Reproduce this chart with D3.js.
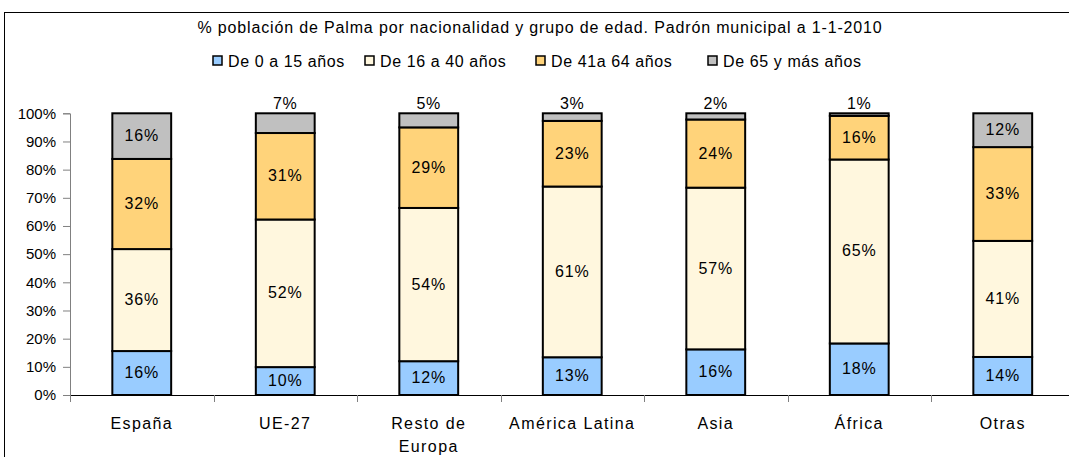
<!DOCTYPE html>
<html>
<head>
<meta charset="utf-8">
<script src="https://cdn.jsdelivr.net/npm/d3@7"></script>
<style>
  body { margin: 0; background: #fff; }
  text { font-family: "Liberation Sans", Arial, sans-serif; fill: #000; }
</style>
</head>
<body>
<script>
'use strict'

var w = 1069;
var h = 457;

// data (percent of each nationality group)
var categories = ["España", "UE-27", "Resto de\nEuropa", "América Latina", "Asia", "África", "Otras"];
var groups = ["De 0 a 15 años", "De 16 a 40 años", "De 41a 64 años", "De 65 y más años"];
var age0to15 = [15.6, 9.9, 12.0, 13.4, 16.2, 18.3, 13.5];
var age16to40 = [36.2, 52.4, 54.4, 60.6, 57.4, 65.3, 41.2];
var age41to64 = [32.0, 30.7, 28.6, 23.3, 24.2, 15.5, 33.3];
var age65plus = [16.2, 7.0, 5.0, 2.7, 2.2, 0.9, 12.0];
var yTicks = [0, 10, 20, 30, 40, 50, 60, 70, 80, 90, 100];
var colors = ["#99CCFF", "#FFF7DE", "#FFD37A", "#C0C0C0"];

var series = [age0to15, age16to40, age41to64, age65plus];
var table = categories.map(function(c, i) {
  var row = { cat: c };
  groups.forEach(function(g, k) { row[g] = series[k][i]; });
  return row;
});

var svg = d3.select("body").append("svg")
  .attr("width", w)
  .attr("height", h);

// outer frame
svg.append("rect")
  .attr("x", 4.5).attr("y", 12.5)
  .attr("width", 1100).attr("height", 500)
  .attr("fill", "none").attr("stroke", "#000").attr("stroke-width", 1);

// title
svg.append("text")
  .attr("x", 540).attr("y", 33)
  .attr("text-anchor", "middle")
  .style("font-size", "16px")
  .style("letter-spacing", "0.85px")
  .text("% población de Palma por nacionalidad y grupo de edad. Padrón municipal a 1-1-2010");

var x = d3.scaleBand()
  .domain(categories)
  .range([70, 1074.5])
  .paddingInner(0.59)
  .paddingOuter(0.295);

var y = d3.scaleLinear()
  .domain([0, 100])
  .range([395, 113.3]);

// y axis
var yAxis = svg.append("g")
  .attr("transform", "translate(70,0)")
  .call(d3.axisLeft(y).tickValues(yTicks).tickSize(7).tickPadding(7)
    .tickFormat(function(d) { return d + "%"; }));
yAxis.select(".domain").attr("stroke", "#808080");
yAxis.selectAll(".tick line").attr("stroke", "#808080");
yAxis.selectAll("text").style("font-size", "15px").style("font-family", "Liberation Sans, Arial, sans-serif");

// x axis: ticks at band boundaries
var step = x.step();
var xb = d3.scaleLinear().domain([0, categories.length]).range([70, 70 + step * categories.length]);
svg.append("line")
  .attr("x1", 70).attr("x2", 1074).attr("y1", 395.5).attr("y2", 395.5)
  .attr("stroke", "#000");
svg.selectAll("line.xt")
  .data(d3.range(categories.length + 1))
  .enter().append("line")
  .attr("class", "xt")
  .attr("x1", function(d) { return Math.round(xb(d)) + 0.5; })
  .attr("x2", function(d) { return Math.round(xb(d)) + 0.5; })
  .attr("y1", 395).attr("y2", 402)
  .attr("stroke", "#808080");

// category labels
svg.selectAll("text.cat")
  .data(categories)
  .enter().append("text")
  .attr("class", "cat")
  .attr("text-anchor", "middle")
  .style("font-size", "16px")
  .style("letter-spacing", "1.4px")
  .each(function(d) {
    var t = d3.select(this);
    d.split("\n").forEach(function(line, i) {
      t.append("tspan")
        .attr("x", x(d) + x.bandwidth() / 2)
        .attr("y", 429 + i * 23)
        .text(line);
    });
  });

// stacked bars
var stack = d3.stack().keys(groups);
var layers = svg.selectAll("g.layer")
  .data(stack(table))
  .enter().append("g")
  .attr("class", "layer")
  .attr("fill", function(d, i) { return colors[i]; });

layers.selectAll("rect")
  .data(function(d) { return d; })
  .enter().append("rect")
  .attr("x", function(d) { return x(d.data.cat); })
  .attr("width", x.bandwidth())
  .attr("y", function(d) { return y(d[1]); })
  .attr("height", function(d) { return y(d[0]) - y(d[1]); })
  .attr("stroke", "#000")
  .attr("stroke-width", 2);

// data labels (small top segments get their label above the bar)
layers.selectAll("text")
  .data(function(d) { return d; })
  .enter().append("text")
  .attr("text-anchor", "middle")
  .style("font-size", "16px")
  .style("letter-spacing", "0.8px")
  .attr("x", function(d) { return x(d.data.cat) + x.bandwidth() / 2; })
  .attr("y", function(d) {
    var v = d[1] - d[0];
    if (v < 10 && d[1] > 99.5) return y(d[1]) - 4;
    return (y(d[0]) + y(d[1])) / 2 + 5;
  })
  .text(function(d) { return Math.round(d[1] - d[0]) + "%"; });

// legend
var legendX = [213, 365, 536, 708];
var legend = svg.selectAll("g.legend")
  .data(groups)
  .enter().append("g")
  .attr("class", "legend")
  .attr("transform", function(d, i) { return "translate(" + legendX[i] + ",56)"; });
legend.append("rect")
  .attr("width", 9).attr("height", 9)
  .attr("fill", function(d, i) { return colors[i]; })
  .attr("stroke", "#000").attr("stroke-width", 1.5);
legend.append("text")
  .attr("x", 15).attr("y", 10.5)
  .style("font-size", "16px")
  .style("letter-spacing", "0.6px")
  .text(function(d) { return d; });
</script>
</body>
</html>
